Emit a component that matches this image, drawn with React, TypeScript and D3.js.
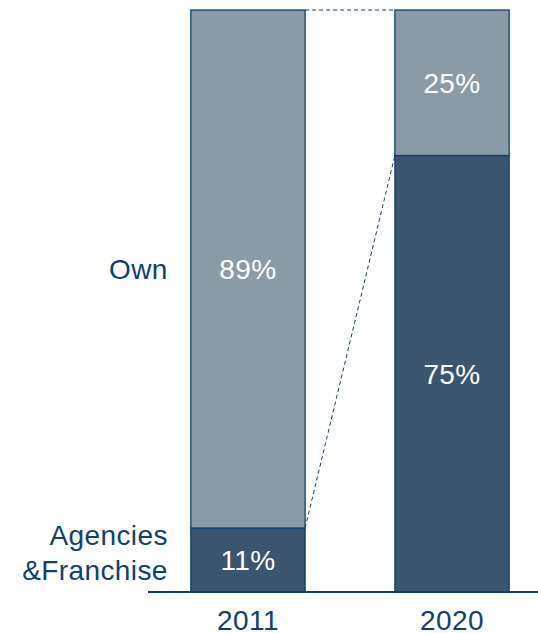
import React from "react";
import * as d3 from "d3";

const width = 538;
const height = 633;
const margin = { top: 10, right: -14, bottom: 41, left: 148 };

const years = ["2011", "2020"];
const agencies = [11, 75];
const own = [89, 25];
const seriesLabels = ["Agencies\n&Franchise", "Own"];

const darkFill = "#3b556e";
const lightFill = "#8a9ba8";
const edge = "#0f416e";
const textBlue = "#0f416e";
const font = "Liberation Sans, Arial, sans-serif";
const fs = 28;
const ls = 0.4;

export default function App() {
  const x = d3
    .scaleBand()
    .domain(years)
    .range([margin.left, width - margin.right])
    .paddingInner(0.44)
    .paddingOuter(0.21);

  const y = d3
    .scaleLinear()
    .domain([0, 100])
    .range([height - margin.bottom, margin.top]);

  const bw = x.bandwidth();

  const stacks = years.map((yr, i) => {
    const x0 = x(yr) as number;
    return [
      { x: x0, y0: 0, y1: agencies[i], fill: darkFill, value: agencies[i] },
      { x: x0, y0: agencies[i], y1: agencies[i] + own[i], fill: lightFill, value: own[i] },
    ];
  });

  const xa = (x(years[0]) as number) + bw;
  const xb = x(years[1]) as number;

  const firstX = x(years[0]) as number;
  const labelX = firstX - 23;
  const agLines = seriesLabels[0].split("\n");
  const ownMid = y(agencies[0] + own[0] / 2);

  return (
    <svg width={width} height={height} style={{ position: "absolute", left: 0, top: 0 }}>
      {stacks.map((segs, i) =>
        segs.map((s, j) => (
          <g key={`${i}-${j}`}>
            <rect
              x={s.x}
              y={y(s.y1)}
              width={bw}
              height={y(s.y0) - y(s.y1)}
              fill={s.fill}
              stroke={edge}
              strokeWidth={1.3}
            />
            <text
              x={s.x + bw / 2}
              y={(y(s.y0) + y(s.y1)) / 2}
              dy="0.36em"
              textAnchor="middle"
              fill="#ffffff"
              fontFamily={font}
              fontSize={fs}
              letterSpacing={ls}
            >
              {s.value}%
            </text>
          </g>
        ))
      )}
      <line x1={xa} y1={y(100)} x2={xb} y2={y(100)} stroke={edge} strokeWidth={1} strokeDasharray="4,3" />
      <line x1={xa} y1={y(agencies[0])} x2={xb} y2={y(agencies[1])} stroke={edge} strokeWidth={1} strokeDasharray="4,3" />
      <line x1={margin.left} y1={y(0)} x2={width} y2={y(0)} stroke={edge} strokeWidth={2} />
      {years.map(yr => (
        <text
          key={yr}
          x={(x(yr) as number) + bw / 2}
          y={629.5}
          textAnchor="middle"
          fill={textBlue}
          fontFamily={font}
          fontSize={fs}
          letterSpacing={ls}
        >
          {yr}
        </text>
      ))}
      <text x={labelX} y={ownMid} dy="0.36em" textAnchor="end" fill={textBlue} fontFamily={font} fontSize={fs} letterSpacing={ls}>
        {seriesLabels[1]}
      </text>
      <text x={labelX} y={545} textAnchor="end" fill={textBlue} fontFamily={font} fontSize={fs} letterSpacing={ls}>
        <tspan x={labelX}>{agLines[0]}</tspan>
        <tspan x={labelX} dy={34.5}>{agLines[1]}</tspan>
      </text>
    </svg>
  );
}
